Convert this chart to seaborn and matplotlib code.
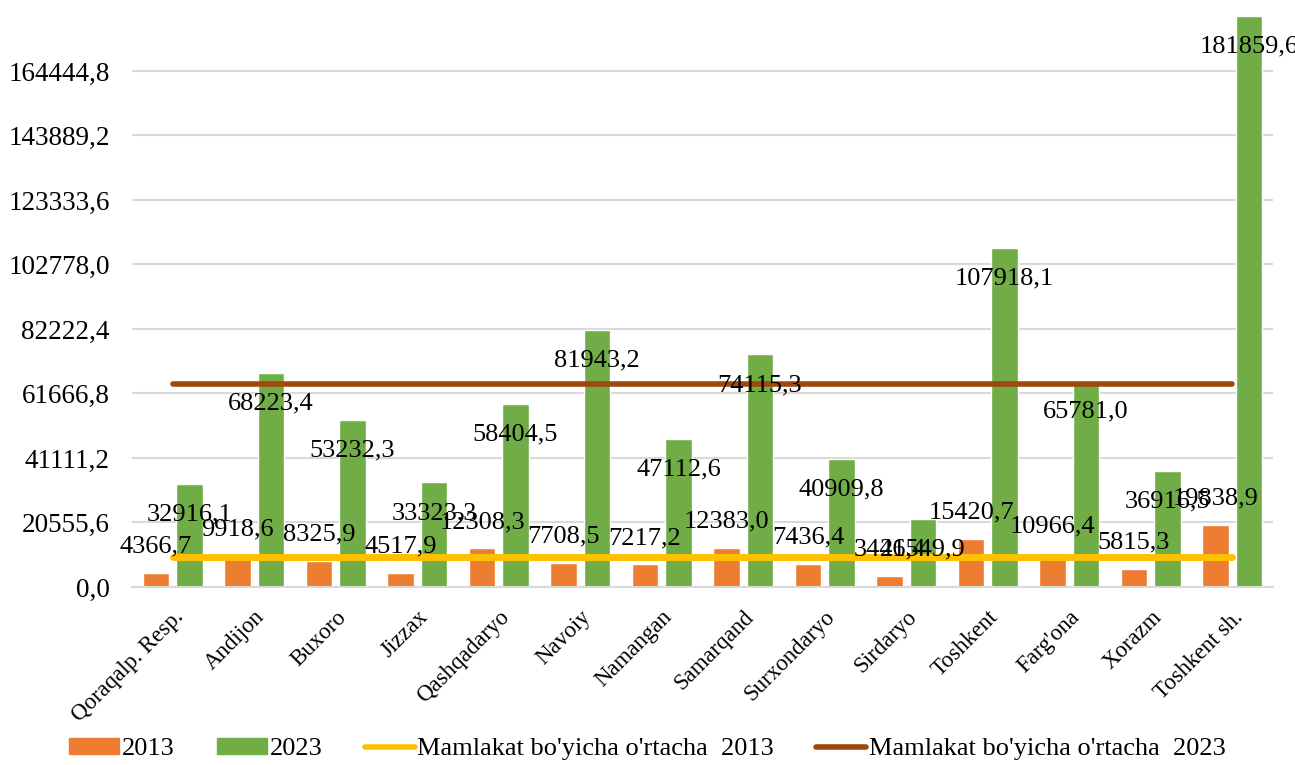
import numpy as np
import pandas as pd
import matplotlib
matplotlib.use("Agg")
import matplotlib.pyplot as plt
import seaborn as sns
from matplotlib.patches import Patch
from matplotlib.lines import Line2D

regions = ["Qoraqalp. Resp.", "Andijon", "Buxoro", "Jizzax", "Qashqadaryo", "Navoiy",
           "Namangan", "Samarqand", "Surxondaryo", "Sirdaryo", "Toshkent", "Farg'ona",
           "Xorazm", "Toshkent sh."]
v2013 = [4366.7, 9918.6, 8325.9, 4517.9, 12308.3, 7708.5, 7217.2, 12383.0, 7436.4,
         3446.4, 15420.7, 10966.4, 5815.3, 19838.9]
v2023 = [32916.1, 68223.4, 53232.3, 33323.3, 58404.5, 81943.2, 47112.6, 74115.3, 40909.8,
         21549.9, 107918.1, 65781.0, 36916.5, 181859.6]
avg2013 = 9600.0
avg2023 = 64800.0
yticks = [0, 20555.6, 41111.2, 61666.8, 82222.4, 102778.0, 123333.6, 143889.2, 164444.8]

df = pd.DataFrame({
    "region": regions * 2,
    "year": ["2013"] * len(regions) + ["2023"] * len(regions),
    "value": v2013 + v2023,
})

sns.set_style("white")
plt.rcParams["font.family"] = ["Liberation Serif", "DejaVu Serif"]
plt.rcParams["text.color"] = "black"
plt.rcParams["xtick.color"] = "black"
plt.rcParams["ytick.color"] = "black"

fig = plt.figure(figsize=(12.95, 7.65), dpi=100)
ax = fig.add_axes([132 / 1295, 1 - 587 / 765, 1141 / 1295, 580.5 / 765])

pal = {"2013": "#ED7D31", "2023": "#70AD47"}
sns.barplot(data=df, x="region", y="value", hue="year", palette=pal, width=0.82, gap=0.2,
            saturation=1, ax=ax, legend=False, zorder=2)

xs = np.arange(len(regions))
ax.plot(xs, [avg2013] * len(xs), color="#FFC000", lw=5, solid_capstyle="round", zorder=3)
ax.plot(xs, [avg2023] * len(xs), color="#9E480E", lw=4, solid_capstyle="round", zorder=3)

def fmt(v):
    return f"{v:.1f}".replace(".", ",")

for cont, off in zip(ax.containers, [19, -22]):
    for bar in cont:
        h = bar.get_height()
        ax.annotate(fmt(h), (bar.get_x() + bar.get_width() / 2, h), xytext=(0, off),
                    textcoords="offset points", ha="center", va="center", fontsize=19,
                    color="black", zorder=4, annotation_clip=False)

ax.set_ylim(0, 185000)
ax.set_xlim(-0.5, len(regions) - 0.5)
ax.set_yticks(yticks)
ax.set_yticklabels([fmt(t) for t in yticks], fontsize=19.5)
ax.yaxis.grid(True, color="#D9D9D9", lw=1.5, zorder=0)
ax.set_axisbelow(True)
ax.set_xticks(xs)
ax.set_xticklabels(regions, rotation=45, ha="right", rotation_mode="anchor", fontsize=16.5)
ax.tick_params(axis="y", length=0, pad=16, colors="black")
ax.tick_params(axis="x", length=0, pad=14, colors="black")
ax.set_xlabel("")
ax.set_ylabel("")
for s in ["top", "right", "left"]:
    ax.spines[s].set_visible(False)
ax.spines["bottom"].set_color("#D9D9D9")
ax.spines["bottom"].set_linewidth(1.5)

handles = [Patch(color=pal["2013"]), Patch(color=pal["2023"]),
           Line2D([], [], color="#FFC000", lw=4, solid_capstyle="round"),
           Line2D([], [], color="#9E480E", lw=4, solid_capstyle="round")]
labels = ["2013", "2023", "Mamlakat bo'yicha o'rtacha  2013", "Mamlakat bo'yicha o'rtacha  2023"]
fig.legend(handles, labels, loc="lower center", bbox_to_anchor=(0.5, -0.025), ncol=4,
           frameon=False, fontsize=19, handlelength=1.9, handleheight=0.55,
           handletextpad=0.1, columnspacing=1.6, labelcolor="black")

fig.savefig("out.png", dpi=100)
